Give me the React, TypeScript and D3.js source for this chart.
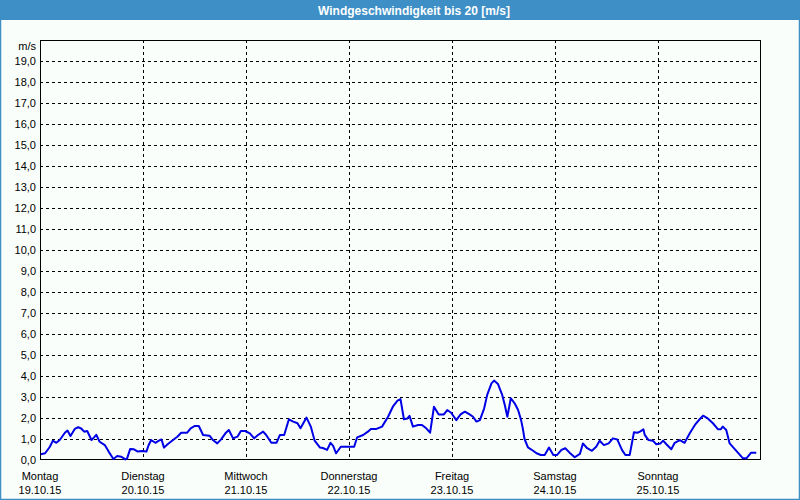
import React from "react";
import * as d3 from "d3";

const title = "Windgeschwindigkeit bis 20 [m/s]";
const unitLabel = "m/s";
const dayNames = ["Montag", "Dienstag", "Mittwoch", "Donnerstag", "Freitag", "Samstag", "Sonntag"];
const dayDates = ["19.10.15", "20.10.15", "21.10.15", "22.10.15", "23.10.15", "24.10.15", "25.10.15"];
const yTicks = d3.range(0, 20, 1);

// hours since Monday 19.10.15 00:00
const hours = [
  0.2, 1.2, 2.3, 3.0, 3.8, 4.6, 5.8, 6.4, 7.1, 8.1, 8.9, 9.6, 10.3, 11.0, 12.0, 12.6, 13.1, 13.9,
  15.1, 16.0, 17.1, 18.0, 18.9, 19.9, 20.3, 21.0, 21.9, 22.8, 23.8, 24.8, 25.3, 25.9, 26.9, 27.7,
  28.3, 28.9, 29.8, 31.0, 32.0, 32.9, 34.3, 35.1, 36.1, 37.0, 38.0, 39.5, 40.3, 41.3, 42.2, 43.2,
  44.0, 45.0, 46.0, 46.8, 47.8, 48.9, 49.9, 50.8, 52.0, 52.7, 53.9, 55.1, 55.9, 56.9, 58.0, 59.0,
  60.0, 60.7, 62.1, 63.1, 64.0, 65.2, 65.9, 66.9, 67.7, 68.3, 69.0, 70.1, 73.2, 73.9, 75.3, 76.4,
  77.1, 78.4, 79.7, 81.1, 82.3, 83.3, 84.0, 84.8, 85.6, 86.1, 86.9, 88.1, 89.0, 90.0, 90.9, 91.8,
  92.9, 94.1, 94.9, 95.8, 97.0, 98.0, 99.0, 100.1, 100.9, 101.7, 102.5, 103.5, 104.2, 105.2, 105.8,
  106.7, 107.7, 108.3, 108.9, 109.7, 110.6, 111.4, 112.1, 112.5, 112.9, 113.7, 114.9, 115.7, 116.7,
  117.6, 118.6, 119.6, 120.5, 121.5, 122.4, 123.4, 124.6, 125.8, 126.5, 127.5, 128.6, 129.6, 130.4,
  131.4, 132.5, 133.5, 134.5, 135.6, 136.4, 137.4, 138.4, 139.2, 139.8, 140.6, 140.9, 141.8, 142.8,
  143.6, 144.6, 145.2, 145.9, 147.1, 147.9, 149.1, 150.2, 151.4, 152.6, 153.7, 154.5, 155.6, 156.8,
  158.0, 158.6, 159.1, 159.9, 160.7, 163.8, 164.6, 165.7, 166.9,
];
const speed = [
  0.27, 0.32, 0.63, 0.92, 0.82, 0.95, 1.3, 1.4, 1.14, 1.48, 1.56, 1.5, 1.35, 1.38, 0.95, 1.08, 1.2, 0.87,
  0.71, 0.4, 0.05, 0.19, 0.16, 0.03, 0.08, 0.52, 0.51, 0.4, 0.43, 0.4, 0.7, 0.95, 0.82, 0.92,
  0.98, 0.59, 0.76, 0.95, 1.11, 1.3, 1.3, 1.51, 1.62, 1.62, 1.19, 1.16, 0.95, 0.79, 0.98, 1.27,
  1.43, 1.03, 1.11, 1.38, 1.38, 1.27, 1.03, 1.19, 1.35, 1.19, 0.82, 0.82, 1.19, 1.19, 1.94, 1.83,
  1.75, 1.51, 2.02, 1.59, 0.92, 0.6, 0.57, 0.48, 0.82, 0.67, 0.32, 0.63, 0.63, 1.08, 1.19, 1.35,
  1.48, 1.48, 1.59, 2.06, 2.57, 2.83, 2.9, 1.94, 1.98, 2.1, 1.59, 1.67, 1.67, 1.51, 1.3, 2.54,
  2.17, 2.17, 2.38, 2.25, 1.9, 2.17, 2.3, 2.17, 2.06, 1.83, 1.9, 2.46, 3.1, 3.65, 3.78,
  3.62, 3.1, 2.62, 2.06, 2.94, 2.7, 2.38, 1.9, 1.5, 1.0, 0.6, 0.44, 0.32, 0.24, 0.24,
  0.59, 0.24, 0.24, 0.48, 0.56, 0.35, 0.13, 0.29, 0.79, 0.56, 0.44, 0.63, 0.92, 0.71,
  0.79, 1.03, 0.98, 0.48, 0.24, 0.24, 1.32, 1.3, 1.35, 1.46, 1.2, 0.95, 0.92, 0.75,
  0.79, 0.92, 0.76, 0.51, 0.82, 0.95, 0.82, 1.27, 1.67, 1.94, 2.11, 1.98, 1.75, 1.46,
  1.46, 1.59, 1.43, 0.79, 0.08, 0.08, 0.35, 0.35, 0.2,
];

const W = 800;
const H = 500;
const left = 40;
const right = 761;
const top = 40;
const bottom = 460;
const frameBlue = "#3d8fc6";
const font = "'Liberation Sans', Arial, sans-serif";

export default function App() {
  const x = d3.scaleLinear().domain([0, 168]).range([left, right]);
  const y = d3.scaleLinear().domain([0, 20]).range([bottom, top]);
  const dayHours = dayNames.map((_, i) => i * 24);
  const pts: [number, number][] = hours.map((h, i) => [h, speed[i]]);
  const line = d3
    .line<[number, number]>()
    .x((d) => x(d[0]))
    .y((d) => y(d[1]));

  return (
    <svg
      width={W}
      height={H}
      style={{ position: "absolute", left: 0, top: 0, display: "block" }}
      fontFamily={font}
    >
      <rect x={0} y={0} width={W} height={H} fill="#fafefa" />
      <rect x={0.5} y={0.5} width={W - 1} height={H - 1} fill="none" stroke={frameBlue} strokeWidth={1.5} />
      <rect x={0} y={0} width={W} height={20} fill={frameBlue} />
      <text x={414} y={15} textAnchor="middle" fill="#ffffff" fontSize={12} fontWeight="bold">
        {title}
      </text>

      {/* horizontal grid */}
      {yTicks
        .filter((t) => t > 0)
        .map((t) => (
          <line
            key={"h" + t}
            x1={left}
            x2={right}
            y1={Math.round(y(t)) + 0.5}
            y2={Math.round(y(t)) + 0.5}
            stroke="#000"
            strokeWidth={1}
            strokeDasharray="3,3"
          />
        ))}
      {/* vertical grid */}
      {dayHours
        .filter((h) => h > 0)
        .map((h) => (
          <line
            key={"v" + h}
            x1={Math.round(x(h)) + 0.5}
            x2={Math.round(x(h)) + 0.5}
            y1={top}
            y2={bottom}
            stroke="#000"
            strokeWidth={1}
            strokeDasharray="3,3"
          />
        ))}

      {/* plot frame */}
      <rect
        x={left + 0.5}
        y={top + 0.5}
        width={right - left - 1}
        height={bottom - top - 1}
        fill="none"
        stroke="#000"
        strokeWidth={1}
      />

      {/* y labels */}
      <text x={36} y={50} textAnchor="end" fontSize={11} fill="#000">
        {unitLabel}
      </text>
      {yTicks.map((t) => (
        <text key={"yl" + t} x={36} y={y(t) + 4} textAnchor="end" fontSize={11} fill="#000">
          {d3.format(".1f")(t).replace(".", ",")}
        </text>
      ))}

      {/* x labels */}
      {dayHours.map((h, i) => (
        <g key={"xl" + i}>
          <text x={x(h)} y={480} textAnchor="middle" fontSize={11} fill="#000">
            {dayNames[i]}
          </text>
          <text x={x(h)} y={494} textAnchor="middle" fontSize={11} fill="#000">
            {dayDates[i]}
          </text>
        </g>
      ))}

      <path d={line(pts) || ""} fill="none" stroke="#0000e6" strokeWidth={2} strokeLinejoin="round" />
    </svg>
  );
}
